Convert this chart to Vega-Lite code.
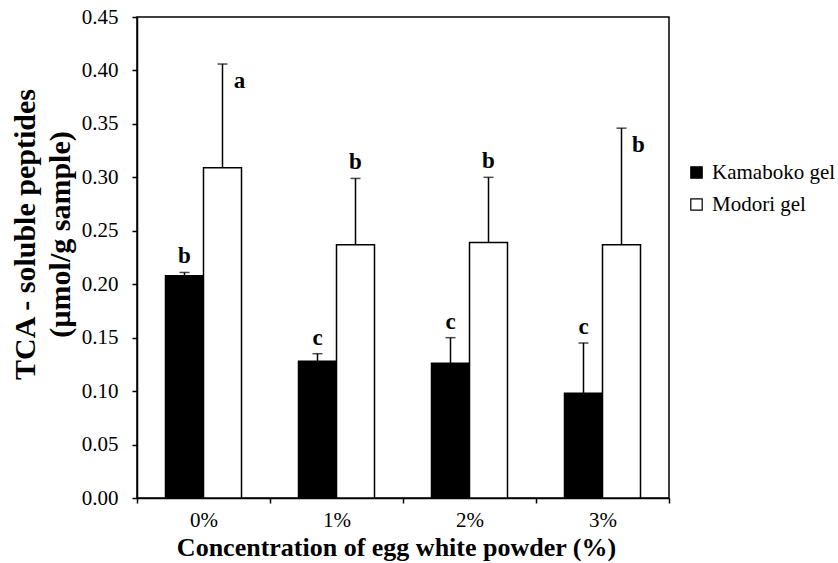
{
  "$schema": "https://vega.github.io/schema/vega-lite/v6.json",
  "width": 532,
  "height": 481,
  "autosize": {"type": "none"},
  "padding": {"left": 137, "top": 17, "right": 169, "bottom": 65},
  "background": "white",
  "config": {
    "view": {"stroke": "black", "strokeWidth": 1.5},
    "font": "Liberation Serif",
    "axis": {"labelFont": "Liberation Serif", "titleFont": "Liberation Serif", "labelColor": "black", "titleColor": "black", "domainColor": "black", "tickColor": "black", "domainWidth": 1.5, "tickWidth": 1.5, "grid": false},
    "legend": {"labelFont": "Liberation Serif", "labelColor": "black"}
  },
  "data": {
    "values": [
      {"conc": "0%", "gel": "Kamaboko gel", "mean": 0.208, "err": 0.211, "letter": "b"},
      {"conc": "0%", "gel": "Modori gel", "mean": 0.309, "err": 0.406, "letter": "a"},
      {"conc": "1%", "gel": "Kamaboko gel", "mean": 0.128, "err": 0.135, "letter": "c"},
      {"conc": "1%", "gel": "Modori gel", "mean": 0.237, "err": 0.299, "letter": "b"},
      {"conc": "2%", "gel": "Kamaboko gel", "mean": 0.126, "err": 0.150, "letter": "c"},
      {"conc": "2%", "gel": "Modori gel", "mean": 0.239, "err": 0.300, "letter": "b"},
      {"conc": "3%", "gel": "Kamaboko gel", "mean": 0.098, "err": 0.145, "letter": "c"},
      {"conc": "3%", "gel": "Modori gel", "mean": 0.237, "err": 0.346, "letter": "b"}
    ]
  },
  "encoding": {
    "x": {
      "field": "conc", "type": "nominal", "sort": null,
      "scale": {"paddingInner": 0, "paddingOuter": 0},
      "axis": {"title": "Concentration of egg white powder (%)", "labelAngle": 0, "tickBand": "extent", "tickSize": 5, "labelFontSize": 21, "labelPadding": 6, "titleFontSize": 26, "titleFontWeight": "bold", "titlePadding": 4, "titleX": 259}
    },
    "xOffset": {"field": "gel", "type": "nominal", "scale": {"paddingOuter": 0.75, "paddingInner": 0}}
  },
  "layer": [
    {
      "mark": {"type": "rule", "strokeWidth": 1.5, "color": "black"},
      "encoding": {
        "y": {"field": "mean", "type": "quantitative"},
        "y2": {"field": "err"}
      }
    },
    {
      "mark": {"type": "tick", "orient": "horizontal", "size": 10, "thickness": 1.5, "color": "black"},
      "encoding": {
        "y": {"field": "err", "type": "quantitative"}
      }
    },
    {
      "mark": {"type": "bar", "stroke": "black", "strokeWidth": 1.5},
      "encoding": {
        "y": {
          "field": "mean", "type": "quantitative",
          "scale": {"domain": [0, 0.45], "nice": false},
          "axis": {"title": ["TCA - soluble peptides", "(µmol/g sample)"], "values": [0, 0.05, 0.1, 0.15, 0.2, 0.25, 0.3, 0.35, 0.4, 0.45], "format": ".2f", "tickSize": 5, "labelFontSize": 21, "labelPadding": 14, "titleFontSize": 30, "titleLineHeight": 35, "titleFontWeight": "bold", "titlePadding": 6, "titleY": 217}
        },
        "fill": {
          "field": "gel", "type": "nominal",
          "scale": {"domain": ["Kamaboko gel", "Modori gel"], "range": ["black", "white"]},
          "legend": {"title": null, "orient": "none", "legendX": 549, "legendY": 145, "symbolType": "square", "symbolSize": 130, "symbolStrokeColor": "black", "symbolStrokeWidth": 1.2, "labelFont": "Liberation Serif", "labelFontSize": 21, "rowPadding": 10, "labelOffset": 5}
        }
      }
    },
    {
      "transform": [{"filter": "!((datum.conc === '0%' || datum.conc === '3%') && datum.gel === 'Modori gel')"}],
      "mark": {"type": "text", "fontSize": 23, "fontWeight": "bold", "baseline": "middle", "dy": -16, "color": "black"},
      "encoding": {
        "y": {"field": "err", "type": "quantitative"},
        "text": {"field": "letter"}
      }
    },
    {
      "transform": [{"filter": "(datum.conc === '0%' || datum.conc === '3%') && datum.gel === 'Modori gel'"}],
      "mark": {"type": "text", "fontSize": 23, "fontWeight": "bold", "baseline": "middle", "dx": 17, "dy": 17, "color": "black"},
      "encoding": {
        "y": {"field": "err", "type": "quantitative"},
        "text": {"field": "letter"}
      }
    }
  ]
}
